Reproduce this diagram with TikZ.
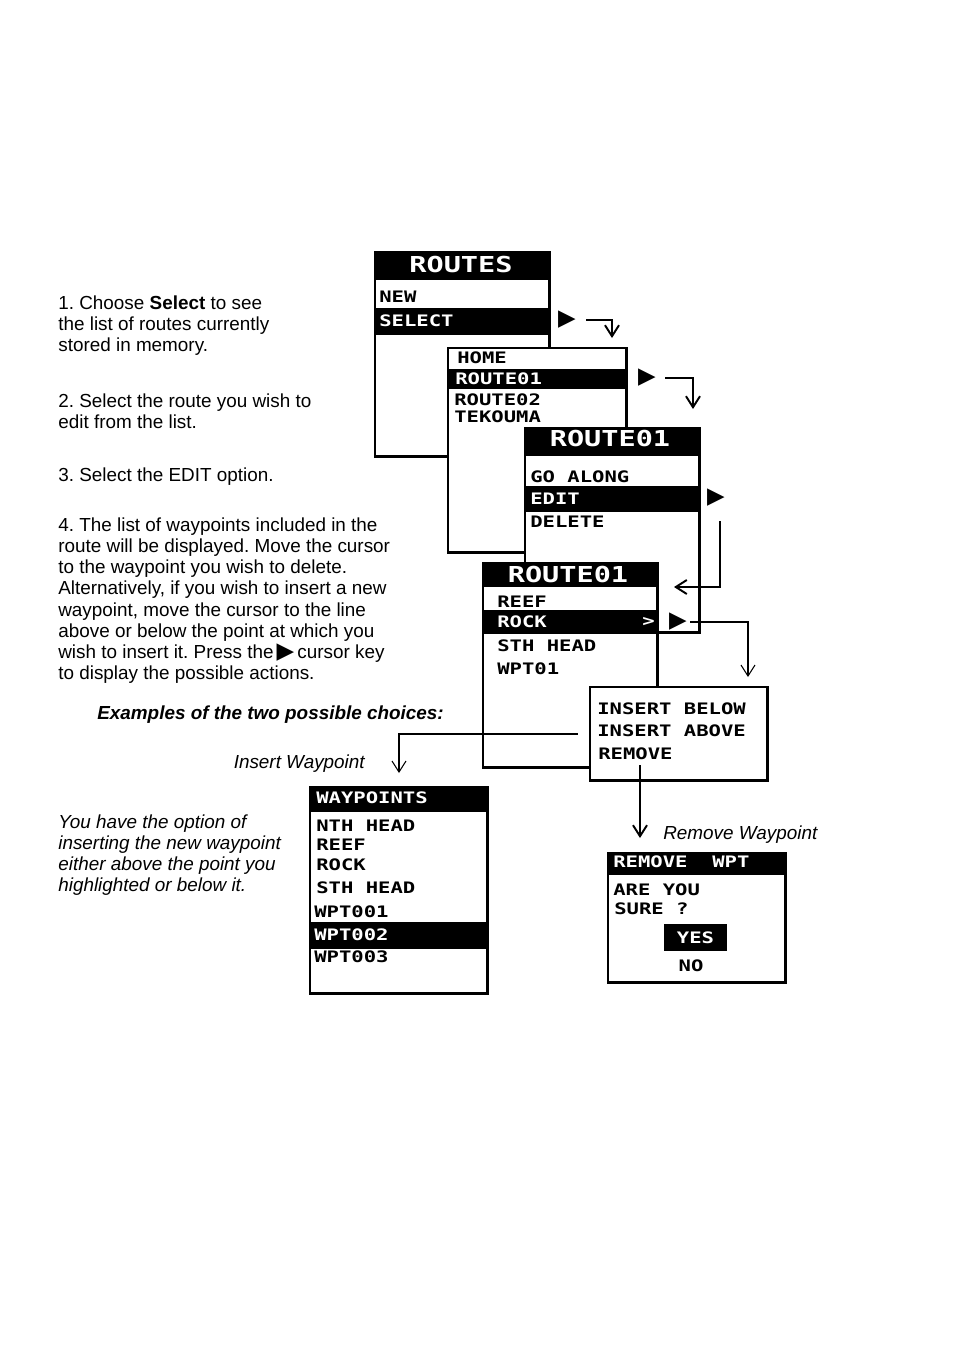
\documentclass[tikz,border=0pt]{standalone}
\usepackage{fontspec}
\setmainfont{Liberation Sans}
\newfontfamily\lcdfamily[FakeStretch=1.3]{DejaVu Sans Mono}
\newfontfamily\trifamily{DejaVu Sans}
\usetikzlibrary{arrows.meta,positioning,calc}
\frenchspacing
\newcommand{\notesize}{\fontsize{10.75}{12.1}\selectfont}
\newcommand{\cuekey}{{\trifamily\fontsize{13}{12}\selectfont ▶}}
\tikzset{
  screen/.style={draw=black,line width=1.7pt,fill=white,anchor=north west,inner sep=0pt,minimum width=3.5cm},
  selbar/.style={fill=black},
  lcdrow/.style={font=\lcdfamily\bfseries\fontsize{9}{10}\selectfont,anchor=west,inner sep=0pt},
  lcdsel/.style={lcdrow,text=white},
  lcdhead/.style={font=\lcdfamily\bfseries\fontsize{12.5}{14}\selectfont,text=white,inner sep=0pt},
  note/.style={font=\notesize,align=left,anchor=north west,inner sep=0pt},
  notei/.style={note,font=\notesize\itshape},
  cue/.style={font=\trifamily\fontsize{13}{13}\selectfont,inner sep=0pt},
  flow/.style={-{Straight Barb[length=2.2mm,width=2.8mm]},line width=1.1pt},
  thinflow/.style={flow,line width=0.6pt}
}

\begin{document}
\begin{tikzpicture}[x=0.02cm,y=-0.02cm]
  \useasboundingbox[fill=white] (0,0) rectangle (954,1357);

  % instructions
  \node[note] (step1) at (58,295) {1. Choose \textbf{Select} to see\\the list of routes currently\\stored in memory.};
  \node[note] (step2) at (58,393) {2. Select the route you wish to\\edit from the list.};
  \node[note] (step3) at (58,467) {3. Select the EDIT option.};
  \node[note] (step4) at (58,517) {4. The list of waypoints included in the\\route will be displayed. Move the cursor\\to the waypoint you wish to delete.\\Alternatively, if you wish to insert a new\\waypoint, move the cursor to the line\\above or below the point at which you\\wish to insert it. Press the\,\cuekey\,cursor key\\to display the possible actions.};
  \node[note,font=\notesize\bfseries\itshape] (choices) at (97,705) {Examples of the two possible choices:};
  \node[notei,anchor=north east] (insLbl) at (365,754) {Insert Waypoint};
  \node[notei] (hint) at (58,814) {You have the option of\\inserting the new waypoint\\either above the point you\\highlighted or below it.};
  \node[notei] (remLbl) at (663,825) {Remove Waypoint};

  % routes menu
  \node[screen,minimum height=4.1cm] (routes) at (373.5,250.5) {};
  \fill[selbar] (373.5,250.5) rectangle (548.5,280);
  \fill[selbar] (373.5,308) rectangle (548.5,335);
  \node[lcdhead] (routesT) at (461,264) {ROUTES};
  \node[lcdrow] (new) at (379,297) {NEW};
  \node[lcdsel] (select) at (379,321) {SELECT};

  % stored routes
  \node[screen,minimum width=3.58cm,minimum height=4.1cm] (list) at (446.5,346.5) {};
  \fill[selbar] (446.5,369) rectangle (625.5,389);
  \node[lcdrow] (home) at (457,358) {HOME};
  \node[lcdsel] (r1) at (455,379) {ROUTE01};
  \node[lcdrow] (r2) at (454,400) {ROUTE02};
  \node[lcdrow] (tek) at (454,417) {TEKOUMA};

  % route options
  \node[screen,minimum height=4.1cm] (menu) at (523.5,426.5) {};
  \fill[selbar] (523.5,426.5) rectangle (698.5,456);
  \fill[selbar] (523.5,486) rectangle (698.5,512);
  \node[lcdhead] (menuT) at (610,438) {ROUTE01};
  \node[lcdrow] (go) at (530,477) {GO ALONG};
  \node[lcdsel] (edit) at (530,499) {EDIT};
  \node[lcdrow] (del) at (530,522) {DELETE};

  % waypoints of the route
  \node[screen,minimum height=4.1cm] (wlist) at (481.5,561.5) {};
  \fill[selbar] (481.5,561.5) rectangle (656.5,587);
  \fill[selbar] (481.5,610) rectangle (656.5,634);
  \node[lcdhead] (wlistT) at (568,574) {ROUTE01};
  \node[lcdrow] (reef) at (497,602) {REEF};
  \node[lcdsel] (rock) at (497,622) {ROCK};
  \node[lcdsel] (more) at (642,622) {>};
  \node[lcdrow] (sth) at (497,646) {STH HEAD};
  \node[lcdrow] (wpt) at (497,669) {WPT01};

  % actions
  \node[screen,minimum width=3.56cm,minimum height=1.88cm] (acts) at (588.5,685.5) {};
  \node[lcdrow] (below) at (597,709) {INSERT BELOW};
  \node[lcdrow] (above) at (597,731) {INSERT ABOVE};
  \node[lcdrow] (rm) at (598,754) {REMOVE};

  % after insert
  \node[screen,minimum width=3.56cm,minimum height=4.14cm] (ins) at (308.5,785.5) {};
  \fill[selbar] (308.5,785.5) rectangle (486.5,812);
  \fill[selbar] (308.5,922) rectangle (486.5,949);
  \node[lcdsel] (insT) at (316,798) {WAYPOINTS};
  \node[lcdrow] (nth) at (316,826) {NTH HEAD};
  \node[lcdrow] (reef2) at (316,845) {REEF};
  \node[lcdrow] (rock2) at (316,865) {ROCK};
  \node[lcdrow] (sth2) at (316,888) {STH HEAD};
  \node[lcdrow] (w1) at (314,912) {WPT001};
  \node[lcdsel] (w2) at (314,935) {WPT002};
  \node[lcdrow] (w3) at (314,957) {WPT003};

  % remove confirm
  \node[screen,minimum width=3.56cm,minimum height=2.6cm] (rem) at (606.5,851.5) {};
  \fill[selbar] (606.5,851.5) rectangle (784.5,875);
  \node[lcdsel] (remT) at (613,862) {REMOVE\ \ WPT};
  \node[lcdrow] (ask) at (613,890) {ARE YOU};
  \node[lcdrow] (sure) at (614,909) {SURE ?};
  \node[lcdsel,anchor=center,fill=black,minimum width=1.26cm,minimum height=0.54cm] (yes) at (695.5,937.5) {YES};
  \node[lcdrow,anchor=center] (no) at (691,966) {NO};

  % cursor key marks
  \node[cue] (t1) at (567,320) {▶};
  \node[cue] (t2) at (647,378) {▶};
  \node[cue] (t3) at (716,498) {▶};
  \node[cue] (t4) at (678,622) {▶};

  \coordinate (a1) at (612,338);
  \coordinate (a2) at (693,409);
  \coordinate (a3) at (674,587);
  \coordinate (a4) at (748,677);
  \coordinate (a5) at (399,773);
  \coordinate (a6) at (640,838);

  \draw[flow,shorten <=0.2cm] (t1.east) -| (a1);
  \draw[flow,shorten <=0.18cm] (t2.east) -| (a2);
  \draw[flow,shorten <=0.28cm] ([xshift=0.08cm]t3.south) |- (a3);
  \draw[thinflow,shorten <=0.06cm] (t4.east) -| (a4);
  \draw[thinflow,shorten <=0.22cm] (acts.west) -| (a5);
  \draw[flow,shorten <=0.1cm] (rm.south -| a6) -- (a6);
\end{tikzpicture}
\end{document}
